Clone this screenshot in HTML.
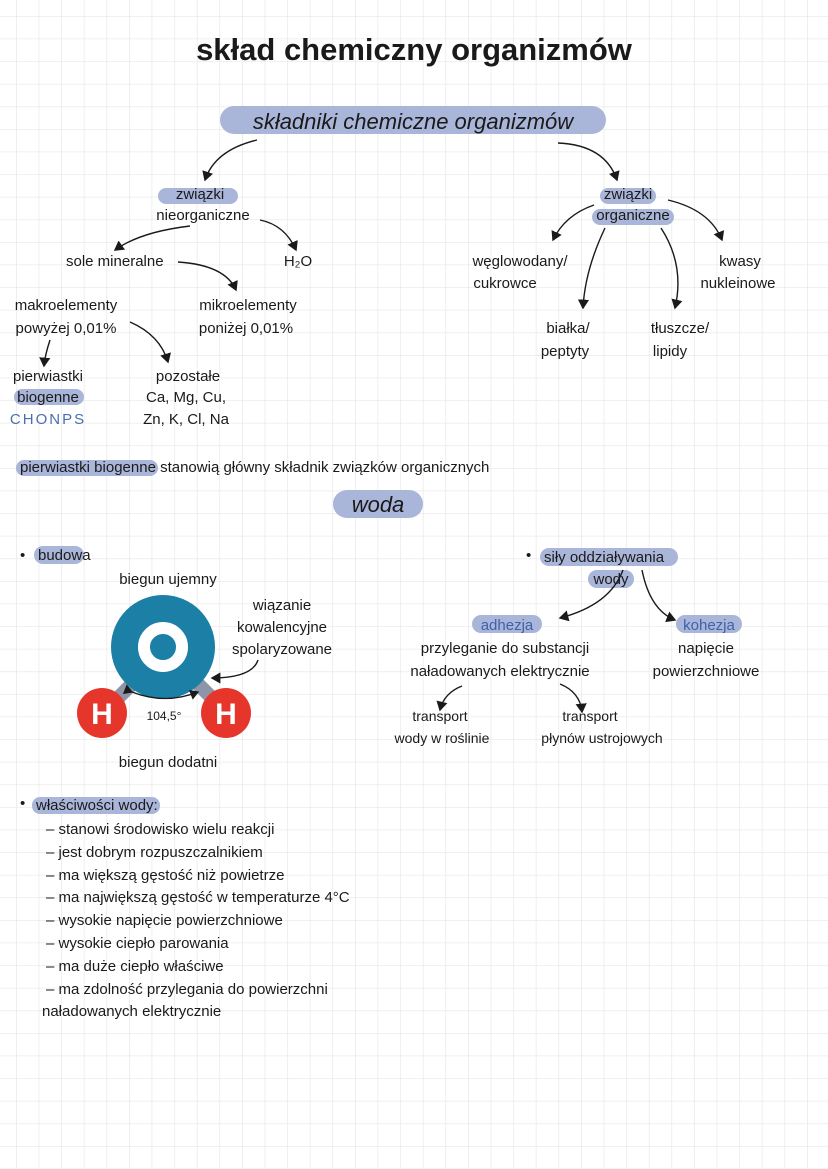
<!DOCTYPE html>
<html><head><meta charset="utf-8"><style>
html,body{margin:0;padding:0;background:#fff}
svg{display:block}
text{font-family:"Liberation Sans",sans-serif;fill:#1a1a1a}
</style></head><body>
<svg width="828" height="1169" viewBox="0 0 828 1169" xmlns="http://www.w3.org/2000/svg">
<defs>
<pattern id="g" x="16" y="16" width="22.6" height="22.6" patternUnits="userSpaceOnUse">
<path d="M0 0H22.6M0 0V22.6" stroke="#e6e6e6" stroke-width="1.3" fill="none"/>
</pattern>
<marker id="a" markerWidth="8" markerHeight="8" refX="6" refY="4" orient="auto"><path d="M0,0 L7,4 L0,8 Z" fill="#1a1a1a"/></marker>
</defs>
<rect width="828" height="1169" fill="#fff"/>
<rect width="828" height="1169" fill="url(#g)"/>

<g fill="#aab6d9">
<rect x="220" y="106" width="386" height="28" rx="14"/>
<rect x="158" y="188" width="80" height="16" rx="8"/>
<rect x="600" y="188" width="56" height="16" rx="8"/>
<rect x="592" y="209" width="82" height="16" rx="8"/>
<rect x="14" y="389" width="70" height="16" rx="8"/>
<rect x="16" y="460" width="142" height="16" rx="8"/>
<rect x="333" y="490" width="90" height="28" rx="14"/>
<rect x="34" y="546" width="50" height="18" rx="9"/>
<rect x="540" y="548" width="138" height="18" rx="9"/>
<rect x="588" y="570" width="46" height="18" rx="9"/>
<rect x="472" y="615" width="70" height="18" rx="9"/>
<rect x="676" y="615" width="66" height="18" rx="9"/>
<rect x="32" y="797" width="128" height="17" rx="8"/>
</g>

<text x="414" y="60" text-anchor="middle" font-size="31" font-weight="bold" style="font-weight:600">skład chemiczny organizmów</text>
<text x="413" y="129" text-anchor="middle" font-size="22" font-style="italic" font-family="Liberation Serif">składniki chemiczne organizmów</text>

<g fill="none" stroke="#1a1a1a" stroke-width="1.4">
<path d="M257 140 Q215 150 205 180" marker-end="url(#a)"/>
<path d="M558 143 Q605 145 617 180" marker-end="url(#a)"/>
<path d="M190 226 Q140 232 115 250" marker-end="url(#a)"/>
<path d="M260 220 Q285 225 296 250" marker-end="url(#a)"/>
<path d="M178 262 Q225 265 236 290" marker-end="url(#a)"/>
<path d="M130 322 Q160 335 168 362" marker-end="url(#a)"/>
<path d="M50 340 Q45 355 44 366" marker-end="url(#a)"/>
<path d="M594 205 Q565 215 553 240" marker-end="url(#a)"/>
<path d="M605 228 Q585 270 583 308" marker-end="url(#a)"/>
<path d="M661 228 Q685 265 675 308" marker-end="url(#a)"/>
<path d="M668 200 Q710 210 722 240" marker-end="url(#a)"/>
<path d="M623 570 Q610 605 560 618" marker-end="url(#a)"/>
<path d="M642 570 Q650 610 675 620" marker-end="url(#a)"/>
<path d="M462 686 Q444 693 440 710" marker-end="url(#a)"/>
<path d="M560 684 Q580 692 582 712" marker-end="url(#a)"/>
<path d="M258 660 Q252 678 212 678" marker-end="url(#a)"/>
</g>

<g font-size="15">
<text x="200" y="199" text-anchor="middle">związki</text>
<text x="203" y="220" text-anchor="middle">nieorganiczne</text>
<text x="628" y="199" text-anchor="middle">związki</text>
<text x="633" y="220" text-anchor="middle">organiczne</text>
<text x="66" y="266">sole  mineralne</text>
<text x="298" y="266" text-anchor="middle">H₂O</text>
<text x="66" y="310" text-anchor="middle">makroelementy</text>
<text x="66" y="333" text-anchor="middle">powyżej 0,01%</text>
<text x="248" y="310" text-anchor="middle">mikroelementy</text>
<text x="246" y="333" text-anchor="middle">poniżej 0,01%</text>
<text x="48" y="381" text-anchor="middle">pierwiastki</text>
<text x="48" y="402" text-anchor="middle">biogenne</text>
<text x="48" y="424" text-anchor="middle" style="fill:#4a6fb0;letter-spacing:2px">CHONPS</text>
<text x="188" y="381" text-anchor="middle">pozostałe</text>
<text x="186" y="402" text-anchor="middle">Ca, Mg, Cu,</text>
<text x="186" y="424" text-anchor="middle">Zn, K, Cl, Na</text>
<text x="520" y="266" text-anchor="middle">węglowodany/</text>
<text x="505" y="288" text-anchor="middle">cukrowce</text>
<text x="740" y="266" text-anchor="middle">kwasy</text>
<text x="738" y="288" text-anchor="middle">nukleinowe</text>
<text x="568" y="333" text-anchor="middle">białka/</text>
<text x="565" y="356" text-anchor="middle">peptyty</text>
<text x="680" y="333" text-anchor="middle">tłuszcze/</text>
<text x="670" y="356" text-anchor="middle">lipidy</text>
<text x="20" y="472">pierwiastki  biogenne  stanowią  główny  składnik  związków  organicznych</text>
</g>
<text x="378" y="512" text-anchor="middle" font-size="22" font-style="italic" font-family="Liberation Serif">woda</text>

<g font-size="15">
<text x="20" y="560">•</text><text x="38" y="560">budowa</text>
<text x="168" y="584" text-anchor="middle">biegun  ujemny</text>
<text x="282" y="610" text-anchor="middle">wiązanie</text>
<text x="282" y="632" text-anchor="middle">kowalencyjne</text>
<text x="282" y="654" text-anchor="middle">spolaryzowane</text>
<text x="168" y="767" text-anchor="middle">biegun  dodatni</text>
<text x="526" y="560">•</text><text x="544" y="562">siły  oddziaływania</text>
<text x="611" y="584" text-anchor="middle">wody</text>
<text x="507" y="630" text-anchor="middle" style="fill:#3d62a8">adhezja</text>
<text x="709" y="630" text-anchor="middle" style="fill:#3d62a8">kohezja</text>
<text x="505" y="653" text-anchor="middle">przyleganie do substancji</text>
<text x="500" y="676" text-anchor="middle">naładowanych elektrycznie</text>
<text x="706" y="653" text-anchor="middle">napięcie</text>
<text x="706" y="676" text-anchor="middle">powierzchniowe</text>
<text x="440" y="721" text-anchor="middle" font-size="14">transport</text>
<text x="442" y="743" text-anchor="middle" font-size="14">wody w roślinie</text>
<text x="590" y="721" text-anchor="middle" font-size="14">transport</text>
<text x="602" y="743" text-anchor="middle" font-size="14">płynów ustrojowych</text>
</g>

<line x1="104" y1="712" x2="140" y2="676" stroke="#8e95a8" stroke-width="14"/>
<line x1="226" y1="712" x2="190" y2="676" stroke="#8e95a8" stroke-width="14"/>
<circle cx="163" cy="647" r="52" fill="#1b7fa6"/>
<circle cx="163" cy="647" r="19" fill="none" stroke="#fff" stroke-width="12"/>
<circle cx="102" cy="713" r="25" fill="#e6352b"/>
<circle cx="226" cy="713" r="25" fill="#e6352b"/>
<text x="102" y="724" text-anchor="middle" font-size="30" font-weight="bold" style="fill:#fff">H</text>
<text x="226" y="724" text-anchor="middle" font-size="30" font-weight="bold" style="fill:#fff">H</text>
<path d="M132 692 Q165 705 198 692" fill="none" stroke="#1a1a1a" stroke-width="1.3" marker-start="url(#a)" marker-end="url(#a)"/>
<text x="164" y="720" text-anchor="middle" font-size="12">104,5°</text>

<g font-size="15">
<text x="20" y="808">•</text><text x="36" y="810">właściwości  wody:</text>
<text x="46" y="834">– stanowi  środowisko  wielu  reakcji</text>
<text x="46" y="857">– jest  dobrym  rozpuszczalnikiem</text>
<text x="46" y="880">– ma  większą  gęstość  niż  powietrze</text>
<text x="46" y="902">– ma  największą  gęstość  w temperaturze  4°C</text>
<text x="46" y="925">– wysokie  napięcie  powierzchniowe</text>
<text x="46" y="948">– wysokie  ciepło  parowania</text>
<text x="46" y="971">– ma duże  ciepło  właściwe</text>
<text x="46" y="994">– ma  zdolność  przylegania do  powierzchni</text>
<text x="42" y="1016">naładowanych  elektrycznie</text>
</g>
</svg>
</body></html>
